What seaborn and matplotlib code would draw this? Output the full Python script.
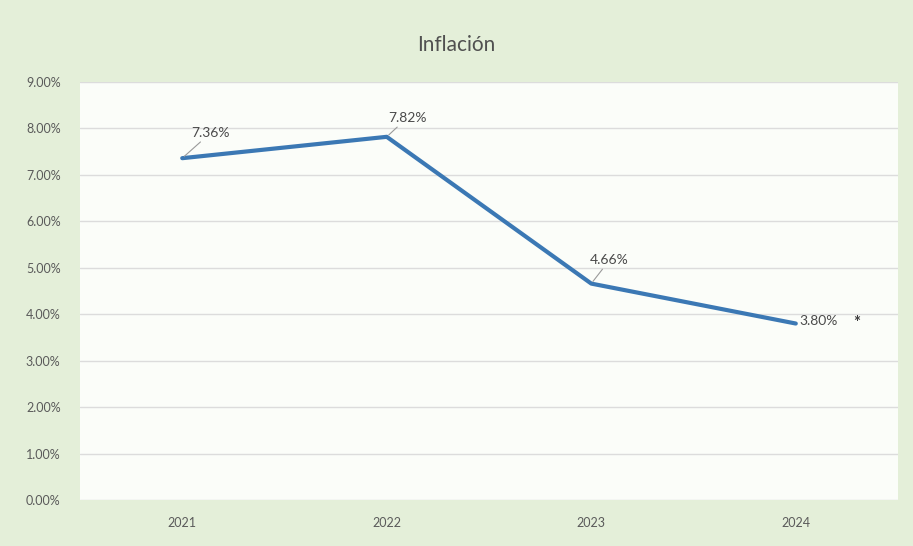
import pandas as pd
import seaborn as sns
from matplotlib import pyplot as plt
from matplotlib.ticker import PercentFormatter

years = ["2021", "2022", "2023", "2024"]
inflation = [7.36, 7.82, 4.66, 3.80]
point_labels = ["7.36%", "7.82%", "4.66%", "3.80%"]
y_ticks = [0, 1, 2, 3, 4, 5, 6, 7, 8, 9]

df = pd.DataFrame({"year": years, "inflation": inflation})

sns.set_theme(style="whitegrid")
plt.rcParams["font.family"] = ["Lato", "DejaVu Sans"]

fig = plt.figure(figsize=(9.13, 5.46), dpi=100)
fig.patch.set_facecolor("#e4efd9")
ax = fig.add_axes([0.0876, 0.0842, 0.896, 0.7656])
ax.set_facecolor("#fbfdf9")

sns.lineplot(data=df, x="year", y="inflation", ax=ax, color="#3b78b4",
             linewidth=3, sort=False)

ax.set_xlim(-0.5, 3.5)
ax.set_ylim(0, 9)
ax.set_yticks(y_ticks)
ax.yaxis.set_major_formatter(PercentFormatter(decimals=2))
ax.grid(axis="y", color="#dcdcdc", linewidth=1)
ax.grid(axis="x", visible=False)
for s in ax.spines.values():
    s.set_visible(False)
ax.tick_params(axis="both", labelsize=9, colors="#5a5a5a", length=0)
ax.tick_params(axis="y", pad=14)
ax.tick_params(axis="x", pad=12)
ax.set_xlabel("")
ax.set_ylabel("")

# data labels with short leader lines
offsets = [(0.14, 0.42), (0.1, 0.28), (0.09, 0.38), (0.0, 0.06)]
for i, (v, lab) in enumerate(zip(inflation, point_labels)):
    dx, dy = offsets[i]
    if i < 3:
        ax.annotate(lab, xy=(i, v), xytext=(i + dx, v + dy),
                    ha="center", va="bottom", fontsize=10, color="#4a4a4a",
                    arrowprops=dict(arrowstyle="-", color="#9a9a9a", lw=0.8,
                                    shrinkA=0, shrinkB=2))
    else:
        ax.text(i + 0.02, v + dy, lab, ha="left", va="center",
                fontsize=10, color="#4a4a4a")
        ax.text(i + 0.28, v + 0.02, "*", ha="left", va="center",
                fontsize=12, fontweight="bold", color="#3a3a3a")

fig.suptitle("Inflación", y=0.935, fontsize=15, color="#505050")

plt.savefig("out.png", dpi=100, facecolor=fig.get_facecolor())
